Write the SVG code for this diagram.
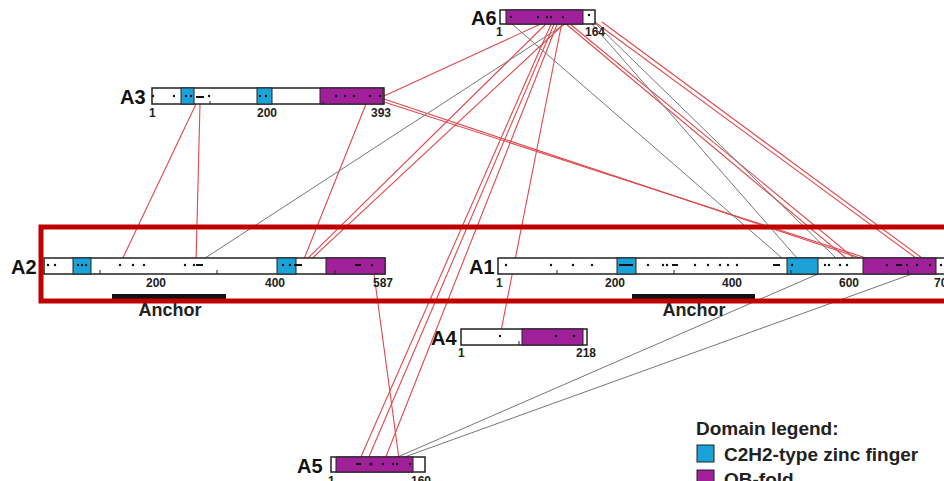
<svg xmlns="http://www.w3.org/2000/svg" width="944" height="481" viewBox="0 0 944 481">
<style>
.bar{fill:#fff;stroke:#222;stroke-width:1.5}
.zf{fill:#1ba3d8;stroke:#222;stroke-width:1}
.ob{fill:#a0209a;stroke:#222;stroke-width:1}
.lbl{font-family:"Liberation Sans",Arial,sans-serif;font-weight:bold;font-size:20px;fill:#111}
.tk{font-family:"Liberation Sans",Arial,sans-serif;font-weight:bold;font-size:12px;fill:#222}
.anc{font-family:"Liberation Sans",Arial,sans-serif;font-weight:bold;font-size:18px;fill:#222}
.leg{font-family:"Liberation Sans",Arial,sans-serif;font-weight:bold;font-size:19px;fill:#222}
.r{stroke:#e0484c;stroke-width:1.1;fill:none}
.g{stroke:#777;stroke-width:1;fill:none}
.d{fill:#111}
.t{stroke:#222;stroke-width:1}
</style>
<rect width="944" height="481" fill="#fff"/>
<g id="connectors">
<line class="r" x1="545" y1="22" x2="384" y2="96"/>
<line class="r" x1="384" y1="99" x2="860" y2="258"/>
<line class="r" x1="384" y1="102" x2="866" y2="258"/>
<line class="r" x1="196" y1="104" x2="120" y2="264"/>
<line class="r" x1="200" y1="104" x2="196" y2="264"/>
<line class="g" x1="196" y1="264" x2="568" y2="22"/>
<line class="r" x1="366" y1="104" x2="302" y2="264"/>
<line class="r" x1="548" y1="22" x2="302" y2="264"/>
<line class="r" x1="566" y1="22" x2="306" y2="264"/>
<line class="r" x1="552" y1="22" x2="360" y2="459"/>
<line class="r" x1="555" y1="22" x2="368" y2="459"/>
<line class="r" x1="558" y1="22" x2="385" y2="459"/>
<line class="r" x1="562" y1="22" x2="500" y2="336"/>
<line class="g" x1="512" y1="24" x2="782" y2="258"/>
<line class="r" x1="566" y1="24" x2="846" y2="258"/>
<line class="r" x1="570" y1="24" x2="854" y2="258"/>
<line class="g" x1="592" y1="24" x2="797" y2="258"/>
<line class="g" x1="596" y1="24" x2="836" y2="258"/>
<line class="r" x1="592" y1="20" x2="916" y2="258"/>
<line class="r" x1="602" y1="22" x2="922" y2="258"/>
<line class="g" x1="393" y1="459" x2="818" y2="274"/>
<line class="g" x1="399" y1="459" x2="912" y2="274"/>
<line class="r" x1="374" y1="274" x2="399" y2="459"/>
</g>
<g id="A6">
<rect class="bar" x="500" y="10" width="95" height="14"/>
<rect class="ob" x="506" y="10" width="77" height="14"/>
<text class="lbl" x="471" y="25">A6</text>
<text class="tk" x="496" y="36">1</text>
<text class="tk" x="585" y="36">164</text>
<circle class="d" cx="511" cy="17" r="1.2"/><circle class="d" cx="538" cy="17" r="1.2"/><circle class="d" cx="547" cy="17" r="1.2"/><circle class="d" cx="551" cy="17" r="1.2"/><circle class="d" cx="563" cy="17" r="1.2"/><circle class="d" cx="589" cy="15" r="1.2"/>
</g>
<g id="A3">
<rect class="bar" x="152" y="88" width="232" height="16"/>
<rect class="zf" x="181" y="88" width="13" height="16"/>
<rect class="zf" x="257" y="88" width="15" height="16"/>
<rect class="ob" x="320" y="88" width="63" height="16"/>
<text class="lbl" x="120" y="104">A3</text>
<text class="tk" x="149" y="117">1</text>
<text class="tk" x="257" y="117">200</text>
<text class="tk" x="371" y="117">393</text>
<line class="t" x1="210" y1="101" x2="210" y2="104"/><line class="t" x1="323" y1="101" x2="323" y2="104"/>
<circle class="d" cx="153" cy="96" r="1.2"/><circle class="d" cx="174" cy="96" r="1.2"/><circle class="d" cx="186" cy="96" r="1.2"/><circle class="d" cx="191" cy="96" r="1.2"/><rect class="d" x="196" y="96" width="8" height="2"/><circle class="d" cx="209" cy="96" r="1.2"/><circle class="d" cx="260" cy="96" r="1.2"/><circle class="d" cx="266" cy="96" r="1.2"/><circle class="d" cx="336" cy="96" r="1.2"/><circle class="d" cx="345" cy="96" r="1.2"/><circle class="d" cx="354" cy="96" r="1.2"/><circle class="d" cx="370" cy="96" r="1.2"/><circle class="d" cx="380" cy="96" r="1.2"/>
</g>
<g id="A2">
<rect class="bar" x="44" y="258" width="341" height="16"/>
<rect class="zf" x="73" y="258" width="18" height="16"/>
<rect class="zf" x="277" y="258" width="19" height="16"/>
<rect class="ob" x="326" y="258" width="59" height="16"/>
<text class="lbl" x="11" y="274">A2</text>
<text class="tk" x="146" y="287">200</text>
<text class="tk" x="265" y="287">400</text>
<text class="tk" x="373" y="287">587</text>
<line class="t" x1="100" y1="270" x2="100" y2="274"/><line class="t" x1="217" y1="270" x2="217" y2="274"/><line class="t" x1="335" y1="270" x2="335" y2="274"/>
<rect x="112" y="294" width="114" height="6" fill="#111"/>
<text class="anc" x="170" y="316" text-anchor="middle">Anchor</text>
<circle class="d" cx="48" cy="265" r="1.2"/><circle class="d" cx="55" cy="265" r="1.2"/><circle class="d" cx="78" cy="265" r="1.2"/><circle class="d" cx="82" cy="265" r="1.2"/><circle class="d" cx="86" cy="265" r="1.2"/><circle class="d" cx="120" cy="265" r="1.2"/><circle class="d" cx="133" cy="265" r="1.2"/><circle class="d" cx="144" cy="265" r="1.2"/><circle class="d" cx="185" cy="265" r="1.2"/><circle class="d" cx="194" cy="265" r="1.2"/><rect class="d" x="196" y="264" width="7" height="2"/><circle class="d" cx="283" cy="265" r="1.2"/><circle class="d" cx="290" cy="265" r="1.2"/><rect class="d" x="294" y="264" width="8" height="2"/><rect class="d" x="355" y="264" width="6" height="2"/><circle class="d" cx="372" cy="265" r="1.2"/>
</g>
<g id="A1">
<rect class="bar" x="498" y="258" width="450" height="16"/>
<rect class="zf" x="617" y="258" width="19" height="16"/>
<rect class="zf" x="787" y="258" width="31" height="16"/>
<rect class="ob" x="863" y="258" width="73" height="16"/>
<text class="lbl" x="469" y="274">A1</text>
<text class="tk" x="496" y="287">1</text>
<text class="tk" x="605" y="287">200</text>
<text class="tk" x="722" y="287">400</text>
<text class="tk" x="839" y="287">600</text>
<text class="tk" x="934" y="287">700</text>
<line class="t" x1="557" y1="270" x2="557" y2="274"/><line class="t" x1="674" y1="270" x2="674" y2="274"/><line class="t" x1="791" y1="270" x2="791" y2="274"/><line class="t" x1="908" y1="270" x2="908" y2="274"/>
<rect x="632" y="294" width="123" height="6" fill="#111"/>
<text class="anc" x="694" y="316" text-anchor="middle">Anchor</text>
<circle class="d" cx="506" cy="265" r="1.2"/><circle class="d" cx="551" cy="265" r="1.2"/><circle class="d" cx="573" cy="265" r="1.2"/><circle class="d" cx="592" cy="265" r="1.2"/><rect class="d" x="619" y="264" width="14" height="2"/><circle class="d" cx="648" cy="265" r="1.2"/><circle class="d" cx="663" cy="265" r="1.2"/><circle class="d" cx="667" cy="265" r="1.2"/><rect class="d" x="672" y="264" width="6" height="2"/><circle class="d" cx="695" cy="265" r="1.2"/><circle class="d" cx="708" cy="265" r="1.2"/><circle class="d" cx="720" cy="265" r="1.2"/><circle class="d" cx="728" cy="265" r="1.2"/><circle class="d" cx="737" cy="265" r="1.2"/><rect class="d" x="773" y="264" width="7" height="2"/><circle class="d" cx="792" cy="265" r="1.2"/><circle class="d" cx="825" cy="265" r="1.2"/><circle class="d" cx="829" cy="265" r="1.2"/><circle class="d" cx="840" cy="265" r="1.2"/><circle class="d" cx="847" cy="265" r="1.2"/><circle class="d" cx="887" cy="265" r="1.2"/><rect class="d" x="896" y="264" width="6" height="2"/><circle class="d" cx="907" cy="265" r="1.2"/><circle class="d" cx="917" cy="265" r="1.2"/><circle class="d" cx="930" cy="265" r="1.2"/><circle class="d" cx="941" cy="265" r="1.2"/>
</g>
<g id="highlight">
<rect x="41" y="227" width="910" height="74" fill="none" stroke="#c00000" stroke-width="5"/>
</g>
<g id="A4">
<rect class="bar" x="461" y="329" width="126" height="16"/>
<rect class="ob" x="522" y="329" width="61" height="16"/>
<text class="lbl" x="431" y="345">A4</text>
<text class="tk" x="458" y="357">1</text>
<text class="tk" x="576" y="357">218</text>
<line class="t" x1="519" y1="341" x2="519" y2="345"/>
<circle class="d" cx="500" cy="336" r="1.2"/><circle class="d" cx="556" cy="336" r="1.2"/><circle class="d" cx="574" cy="336" r="1.2"/>
</g>
<g id="A5">
<rect class="bar" x="331" y="457" width="94" height="15"/>
<rect class="ob" x="336" y="457" width="77" height="15"/>
<text class="lbl" x="297" y="473">A5</text>
<text class="tk" x="328" y="485">1</text>
<text class="tk" x="411" y="485">160</text>
<rect class="d" x="356" y="463" width="5" height="2"/><circle class="d" cx="371" cy="464" r="1.5"/><circle class="d" cx="383" cy="464" r="1.2"/><circle class="d" cx="393" cy="464" r="1.2"/><circle class="d" cx="397" cy="464" r="1.2"/><circle class="d" cx="410" cy="464" r="1.2"/>
</g>
<g id="legend">
<text class="leg" x="696" y="435">Domain legend:</text>
<rect class="zf" x="697" y="445" width="17" height="17" stroke-width="1.5"/>
<text class="leg" x="724" y="461">C2H2-type zinc finger</text>
<rect class="ob" x="697" y="470" width="17" height="17" stroke-width="1.5"/>
<text class="leg" x="724" y="486">OB-fold</text>
</g>
</svg>
